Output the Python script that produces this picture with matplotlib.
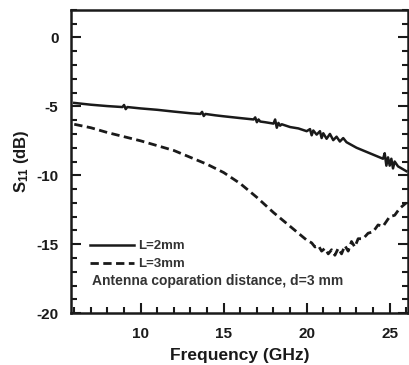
import matplotlib
matplotlib.use('Agg')
from matplotlib import pyplot as plt
from matplotlib.ticker import MultipleLocator

plt.rcParams['font.family'] = ['Liberation Sans', 'DejaVu Sans']
plt.rcParams['font.weight'] = 'bold'
plt.rcParams['axes.labelweight'] = 'bold'
plt.rcParams['axes.unicode_minus'] = False
plt.rcParams['mathtext.fontset'] = 'custom'
plt.rcParams['mathtext.rm'] = 'Liberation Sans:bold'
plt.rcParams['mathtext.bf'] = 'Liberation Sans:bold'
plt.rcParams['mathtext.default'] = 'bf'

freq_2mm = [6.0, 7.0, 8.0, 8.9, 9.0, 9.1, 9.2, 10.0, 11.0, 12.0, 13.0, 13.6, 13.7, 13.8,
            13.9, 14.5, 15.0, 16.0, 16.8, 16.9, 17.0, 17.1, 17.2, 17.5, 18.0, 18.1, 18.2,
            18.3, 18.4, 18.5, 19.0, 19.5, 20.0, 20.2, 20.3, 20.4, 20.6, 20.8, 20.9, 21.0,
            21.2, 21.4, 21.6, 21.8, 22.0, 22.2, 22.4, 23.0, 24.0, 24.6, 24.7, 24.8, 24.9,
            25.0, 25.1, 25.2, 25.3, 25.5, 26.0]
s11_2mm = [-4.75, -4.88, -4.98, -5.05, -4.9, -5.2, -5.05, -5.15, -5.25, -5.38, -5.5, -5.55,
           -5.4, -5.7, -5.55, -5.65, -5.72, -5.85, -5.95, -5.8, -6.15, -5.95, -6.1, -6.15,
           -6.25, -5.95, -6.55, -6.2, -6.4, -6.3, -6.5, -6.6, -6.8, -6.65, -7.1, -6.75,
           -7.05, -6.8, -7.3, -6.95, -7.35, -7.0, -7.45, -7.2, -7.55, -7.3, -7.6, -8.0,
           -8.5, -8.8, -8.4, -9.3, -8.7, -9.3, -8.8, -9.5, -9.0, -9.35, -9.7]

# L = 3 mm (dashed)
freq_3mm = [6.0, 7.0, 8.0, 9.0, 10.0, 11.0, 12.0, 13.0, 14.0, 15.0, 16.0, 17.0, 18.0, 18.5,
            19.0, 19.5, 20.0, 20.3, 20.5, 20.7, 20.9, 21.1, 21.3, 21.5, 21.7, 21.9, 22.1,
            22.3, 22.5, 22.7, 22.9, 23.1, 23.4, 23.7, 24.0, 24.3, 24.6, 25.0, 25.3, 25.6, 26.0]
s11_3mm = [-6.3, -6.55, -6.9, -7.2, -7.5, -7.85, -8.2, -8.7, -9.2, -9.8, -10.6, -11.6, -12.7,
           -13.2, -13.7, -14.2, -14.7, -14.9, -15.2, -15.1, -15.5, -15.3, -15.7, -15.4, -15.8,
           -15.3, -15.7, -15.1, -15.5, -14.8, -15.2, -14.6, -14.6, -14.2, -14.1, -13.6, -13.7,
           -13.0, -12.9, -12.4, -12.0]

ink = '#1a1a1a'

fig = plt.figure(figsize=(4.1, 3.65), dpi=100)
ax = fig.add_axes([0.173, 0.142, 0.822, 0.831])

ax.plot(freq_2mm, s11_2mm, color=ink, lw=1.8, label='L=2mm')
ax.plot(freq_3mm, s11_3mm, color=ink, lw=2.0, ls=(0, (3, 1.6)), label='L=3mm')

ax.set_xlim(5.8, 26.1)
ax.set_ylim(-20, 2)
ax.xaxis.set_major_locator(MultipleLocator(5))
ax.xaxis.set_minor_locator(MultipleLocator(1))
ax.yaxis.set_major_locator(MultipleLocator(5))
ax.yaxis.set_minor_locator(MultipleLocator(1))
ax.tick_params(which='both', direction='in', right=True, top=False, width=1.5,
               colors=ink, labelsize=11)
ax.tick_params(which='major', length=7)
ax.tick_params(which='minor', length=4)
ax.tick_params(axis='x', pad=10)
ax.tick_params(axis='y', pad=9)
for sp in ax.spines.values():
    sp.set_linewidth(1.8)
    sp.set_color(ink)

ax.set_xlabel('Frequency (GHz)', fontsize=12.5, color=ink, labelpad=5)
ax.set_ylabel('S$_{11}$ (dB)', fontsize=12, color=ink, labelpad=4)

leg = ax.legend(loc='upper left', bbox_to_anchor=(0.02, 0.28), frameon=False,
                handlelength=3.4, handletextpad=0.3, labelspacing=0.42,
                prop={'size': 9.5, 'weight': 'bold'})
for t in leg.get_texts():
    t.set_color('#333333')
ax.text(0.063, 0.105, 'Antenna coparation distance, d=3 mm', transform=ax.transAxes,
        fontsize=10, color='#333333', va='center')

plt.savefig('out.png', dpi=100)
